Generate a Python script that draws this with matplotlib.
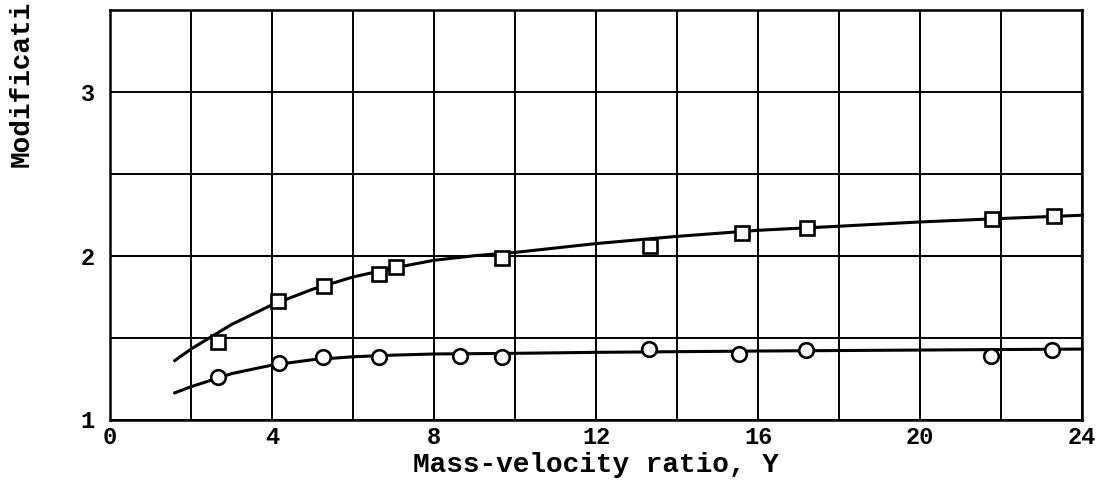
import matplotlib
matplotlib.use("Agg")
import matplotlib.pyplot as plt
from matplotlib.ticker import MultipleLocator, FixedLocator

# ---- data ----
square_x = [2.67, 4.15, 5.29, 6.65, 7.07, 9.67, 13.34, 15.6, 17.2, 21.77, 23.32]
square_y = [1.474, 1.723, 1.814, 1.887, 1.932, 1.983, 2.058, 2.141, 2.172, 2.223, 2.243]

circle_x = [2.67, 4.18, 5.25, 6.65, 8.63, 9.67, 13.32, 15.54, 17.19, 21.76, 23.26]
circle_y = [1.257, 1.345, 1.379, 1.379, 1.387, 1.379, 1.430, 1.399, 1.424, 1.389, 1.424]

# faired curves
sq_curve_x = [1.6, 2, 3, 4, 5, 6, 7, 8, 9, 10, 12, 14, 16, 18, 20, 22, 24]
sq_curve_y = [1.36, 1.43, 1.58, 1.70, 1.795, 1.87, 1.925, 1.972, 2.0, 2.02, 2.074,
              2.118, 2.155, 2.18, 2.206, 2.227, 2.247]
ci_curve_x = [1.6, 2, 3, 4, 5, 6, 7, 8, 10, 12, 16, 20, 24]
ci_curve_y = [1.163, 1.20, 1.28, 1.332, 1.365, 1.383, 1.393, 1.40, 1.404, 1.41,
              1.418, 1.424, 1.43]

x_ticks = [0, 4, 8, 12, 16, 20, 24]
y_ticks = [1, 2, 3]
x_label = "Mass-velocity ratio, Y"
y_label = "Modificati"

# ---- figure ----
plt.rcParams['font.family'] = ['Liberation Mono', 'DejaVu Sans Mono']
plt.rcParams['font.weight'] = 'bold'

fig = plt.figure(figsize=(10.98, 4.87), dpi=100)
ax = fig.add_axes([110/1098, 1 - 419.5/487, (1082 - 110)/1098, (419.5 - 10)/487])

ax.set_xlim(0, 24)
ax.set_ylim(1, 3.5)

ax.xaxis.set_major_locator(FixedLocator(x_ticks))
ax.yaxis.set_major_locator(FixedLocator(y_ticks))
ax.xaxis.set_minor_locator(MultipleLocator(2))
ax.yaxis.set_minor_locator(MultipleLocator(0.5))
ax.set_xticklabels([str(t) for t in x_ticks], fontsize=17, fontweight='bold')
ax.set_yticklabels([str(t) for t in y_ticks], fontsize=17, fontweight='bold')
ax.tick_params(which='both', length=0)
ax.tick_params(axis='x', pad=5)
ax.tick_params(axis='y', pad=11)

ax.grid(which='both', color='black', linewidth=1.4)
ax.set_axisbelow(True)
for s in ax.spines.values():
    s.set_linewidth(1.8)
    s.set_color('black')

ax.plot(sq_curve_x, sq_curve_y, color='black', linewidth=2.2, zorder=3, clip_on=False)
ax.plot(ci_curve_x, ci_curve_y, color='black', linewidth=2.2, zorder=3, clip_on=False)
ax.plot(square_x, square_y, linestyle='none', marker='s', markersize=10.5,
        markerfacecolor='white', markeredgecolor='black', markeredgewidth=1.9, zorder=4)
ax.plot(circle_x, circle_y, linestyle='none', marker='o', markersize=10.5,
        markerfacecolor='white', markeredgecolor='black', markeredgewidth=1.9, zorder=4)

ax.set_xlabel(x_label, fontsize=20, fontweight='bold', labelpad=2)
fig.text(22/1098, 1 - 167/487, y_label, rotation=90, ha='center', va='bottom',
         fontsize=20, fontweight='bold')

fig.savefig("out.png", dpi=100)
